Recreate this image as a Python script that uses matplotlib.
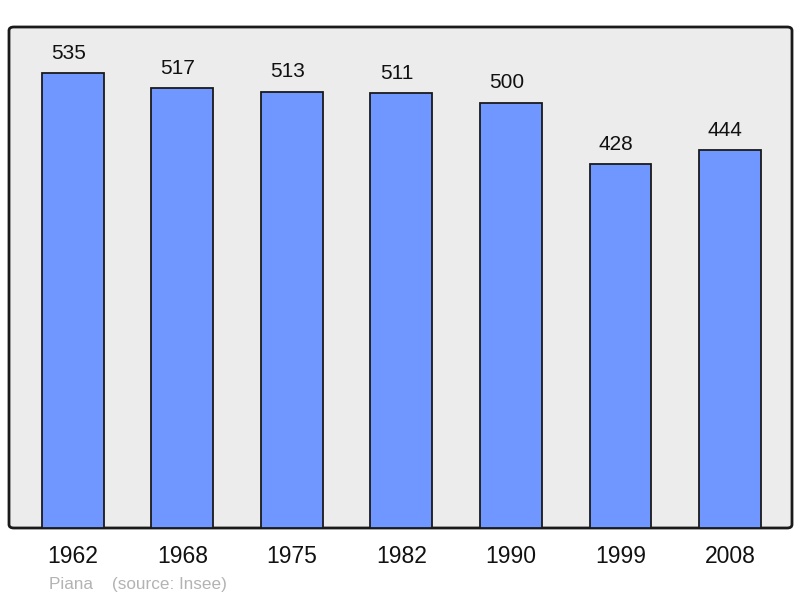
import matplotlib.pyplot as plt
from matplotlib.patches import FancyBboxPatch

plt.rcParams['font.family'] = ['Liberation Sans', 'DejaVu Sans']

# census years and population of Piana
years = ['1962', '1968', '1975', '1982', '1990', '1999', '2008']
population = [535, 517, 513, 511, 500, 428, 444]

fig = plt.figure(figsize=(8, 5.98), dpi=100)

# gray rounded frame behind the plot area
left, bottom, width, height = 9 / 800, 70 / 598, 783 / 800, 501 / 598
frame = FancyBboxPatch((left, bottom), width, height,
                       boxstyle='round,pad=0,rounding_size=0.006',
                       transform=fig.transFigure, facecolor='#ececec',
                       edgecolor='#1a1a1a', linewidth=2, zorder=-1)
fig.patches.append(frame)

ax = fig.add_axes([left, bottom, width, height])
ax.set_facecolor('none')
for s in ax.spines.values():
    s.set_visible(False)

x = list(range(len(years)))
ax.bar(x, population, width=0.566, color='#7096ff', edgecolor='#1a1a1a',
       linewidth=1.3, zorder=2)

for xi, v in zip(x, population):
    ax.annotate(str(v), (xi, v), xytext=(-3.3, 7.5), textcoords='offset points',
                ha='center', va='bottom', fontsize=15, color='#111111')

ax.set_xlim(-0.584, 6.566)
ax.set_ylim(0, 589)
ax.set_yticks([])
ax.set_xticks(x)
ax.set_xticklabels(years, fontsize=16.5, color='#111111')
ax.tick_params(axis='x', length=0, pad=12)

fig.text(49 / 800, 1 - 584 / 598, 'Piana    (source: Insee)', fontsize=12.3,
         color='#b3b3b3', ha='left', va='center')

fig.savefig('out.png', dpi=100)
